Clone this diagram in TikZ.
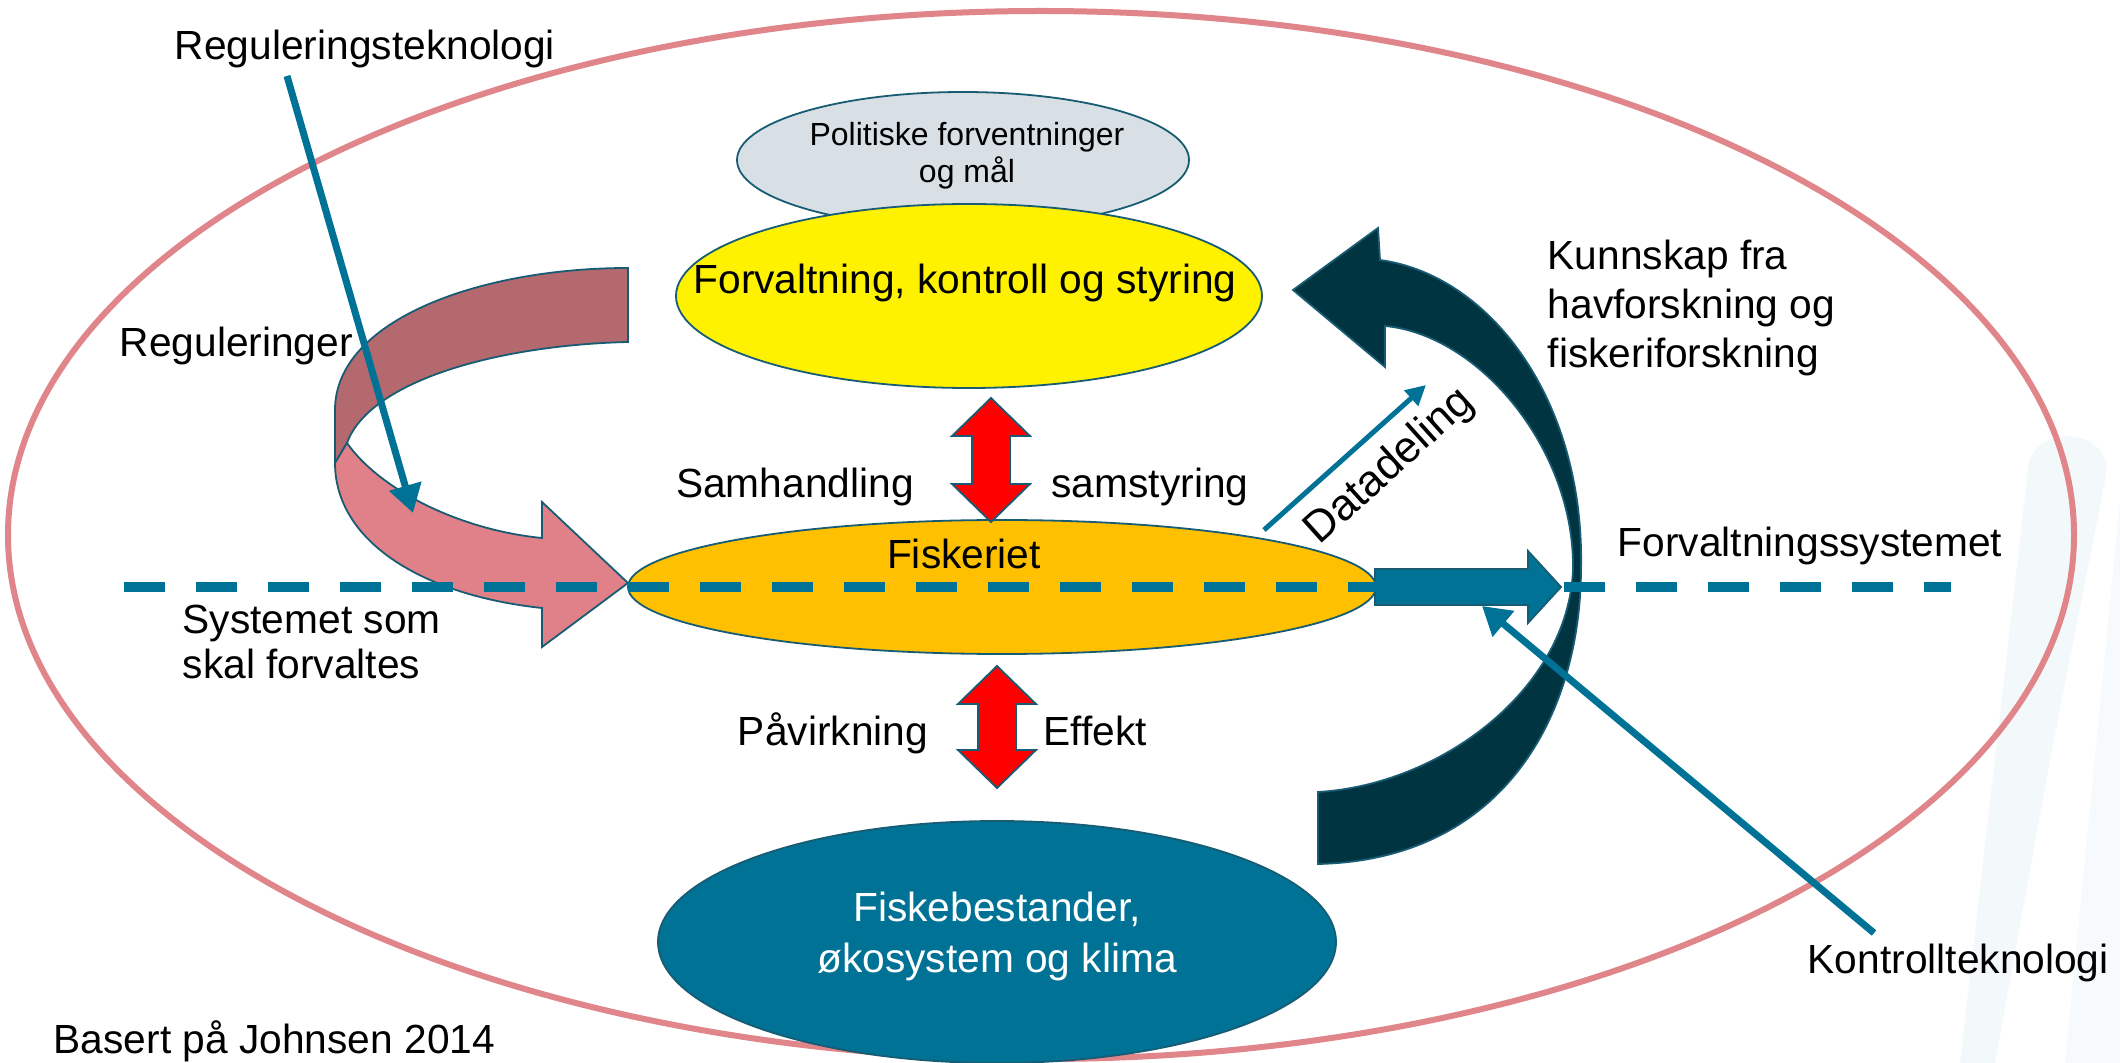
\documentclass[tikz,border=0pt]{standalone}
\usepackage{fontspec}
\setmainfont{Liberation Sans}
\usetikzlibrary{arrows.meta}

\definecolor{ringpink}{RGB}{224,133,138}
\definecolor{bandlight}{RGB}{224,128,136}
\definecolor{banddark}{RGB}{180,105,110}
\definecolor{seablue}{RGB}{0,114,150}
\definecolor{deepteal}{RGB}{0,52,64}
\definecolor{edgeteal}{RGB}{24,92,116}
\definecolor{mistgray}{RGB}{216,224,230}
\definecolor{fishorange}{RGB}{255,192,0}
\definecolor{faintblue}{RGB}{243,249,251}

\tikzset{every picture/.style={line width=0.75pt}}

\begin{document}
\begin{tikzpicture}[x=0.5pt,y=0.5pt,yscale=-1,xscale=1,
	lbl/.style={font=\fontsize{20.35}{24.5}\selectfont, inner sep=0pt},
	shape edge/.style={draw=edgeteal, line width=0.9pt},
	pointer/.style={draw=seablue, line width=3.5pt, -{Triangle[length=14pt,width=16pt]}},
	thin pointer/.style={draw=seablue, line width=2.5pt, -{Triangle[length=10pt,width=10pt]}},
	dashline/.style={draw=seablue, line width=5pt, dash pattern=on 20.5pt off 15.5pt}]
	\useasboundingbox (0,0) rectangle (2120,1063);
	\fill[white] (0,0) rectangle (2120,1063);

	%faint backdrop at the right edge
	\fill[faintblue] (2028,470) .. controls (2030,425) and (2105,425) .. (2107,470) -- (2050,760) -- (1995,1063) -- (1960,1063) -- cycle ;
	\fill[faintblue, opacity=0.7] (2120,500) -- (2120,1063) -- (2065,1063) -- cycle ;

	%outer ring
	\draw[ringpink, line width=3pt] (1041,535) ellipse [x radius=1033, y radius=524] ;

	%top ellipses
	\draw[shape edge, fill=mistgray] (963,160) ellipse [x radius=226, y radius=68] ;
	\draw[shape edge, fill=yellow] (969,296) ellipse [x radius=293, y radius=92] ;

	%curved band, left
	\draw[shape edge, fill=banddark] (628,268) -- (628,342) .. controls (500,345) and (370,380) .. (347,443) -- (335,463) -- (335,410) .. controls (335,320) and (480,268) .. (628,268) -- cycle ;
	\draw[shape edge, fill=bandlight] (347,443) .. controls (380,490) and (460,530) .. (542,538) -- (542,502) -- (628,583) -- (542,647) -- (542,608) .. controls (420,595) and (335,540) .. (335,463) -- cycle ;

	%fishery ellipse
	\draw[shape edge, fill=fishorange] (1002,587) ellipse [x radius=374, y radius=67] ;

	%curved band, right
	\draw[shape edge, fill=deepteal] (1293,290) -- (1378,228) -- (1380,260) .. controls (1490,275) and (1585,400) .. (1581,570) .. controls (1580,720) and (1500,860) .. (1318,864) -- (1318,792) .. controls (1440,785) and (1568,690) .. (1573,570) .. controls (1575,450) and (1480,335) .. (1385,326) -- (1385,367) -- cycle ;

	%block arrow to the right
	\draw[shape edge, fill=seablue] (1375,569) -- (1528,569) -- (1528,551) -- (1561,587) -- (1528,623) -- (1528,605) -- (1375,605) -- cycle ;

	%system boundary
	\coordinate (lineW) at (124,587);
	\coordinate (lineE) at (1951,587);
	\draw[dashline] (lineW) -- (lineE) ;

	%double arrows
	\draw[shape edge, fill=red, shift={(991,398)}] (0,0) -- (39,38) -- (19,38) -- (19,86) -- (39,86) -- (0,124) -- (-39,86) -- (-19,86) -- (-19,38) -- (-39,38) -- cycle ;
	\draw[shape edge, fill=red, shift={(997,666)}] (0,0) -- (39,38) -- (19,38) -- (19,84) -- (39,84) -- (0,122) -- (-39,84) -- (-19,84) -- (-19,38) -- (-39,38) -- cycle ;

	%stocks ellipse
	\draw[shape edge, fill=seablue] (997,942) ellipse [x radius=339, y radius=121] ;

	%technology pointers
	\coordinate (regfoot) at (287,76);
	\coordinate (regaim) at (413,513);
	\draw[pointer] (regfoot) -- (regaim) ;
	\coordinate (kontrollfoot) at (1874,933);
	\coordinate (kontrollaim) at (1482,606);
	\draw[pointer] (kontrollfoot) -- (kontrollaim) ;
	\coordinate (delfoot) at (1264,530);
	\coordinate (delaim) at (1426,385);
	\draw[thin pointer] (delfoot) -- (delaim) ;

	% Text Node
	\node[lbl, anchor=base] (regtek) at (365,60) {Reguleringsteknologi};
	\node[lbl, anchor=base west] (regler) at (119,357) {Reguleringer};
	\node[lbl, font=\fontsize{16}{18.5}\selectfont, align=center, anchor=north] (politikk) at (967,122) {Politiske forventninger\\og mål};
	\node[lbl, anchor=base] (styring) at (965,294) {Forvaltning, kontroll og styring};
	\node[lbl, anchor=base] (samhandling) at (795,498) {Samhandling};
	\node[lbl, anchor=base] (samstyring) at (1150,498) {samstyring};
	\node[lbl, anchor=base] (fiskeriet) at (964,569) {Fiskeriet};
	\node[lbl, anchor=base] (pavirkning) at (833,745) {Påvirkning};
	\node[lbl, anchor=base] (effekt) at (1095,745) {Effekt};
	\node[lbl, font=\fontsize{20.35}{25.5}\selectfont, text=white, align=center, anchor=north] (bestand) at (997,891) {Fiskebestander,\\økosystem og klima};
	\node[lbl, align=left, anchor=north west] (kunnskap) at (1547,239) {Kunnskap fra\\havforskning og\\fiskeriforskning};
	\node[lbl, anchor=base west] (forvsys) at (1617,557) {Forvaltningssystemet};
	\node[lbl, font=\fontsize{20.35}{22.5}\selectfont, align=left, anchor=north west] (systemet) at (182,604) {Systemet som\\skal forvaltes};
	\node[lbl, anchor=base west] (kilde) at (53,1053) {Basert på Johnsen 2014};
	\node[lbl, anchor=base west] (kontroll) at (1807,973) {Kontrollteknologi};
	\node[lbl, font=\fontsize{22}{26}\selectfont, rotate=42] (datadeling) at (1390,467) {Datadeling};
\end{tikzpicture}
\end{document}
